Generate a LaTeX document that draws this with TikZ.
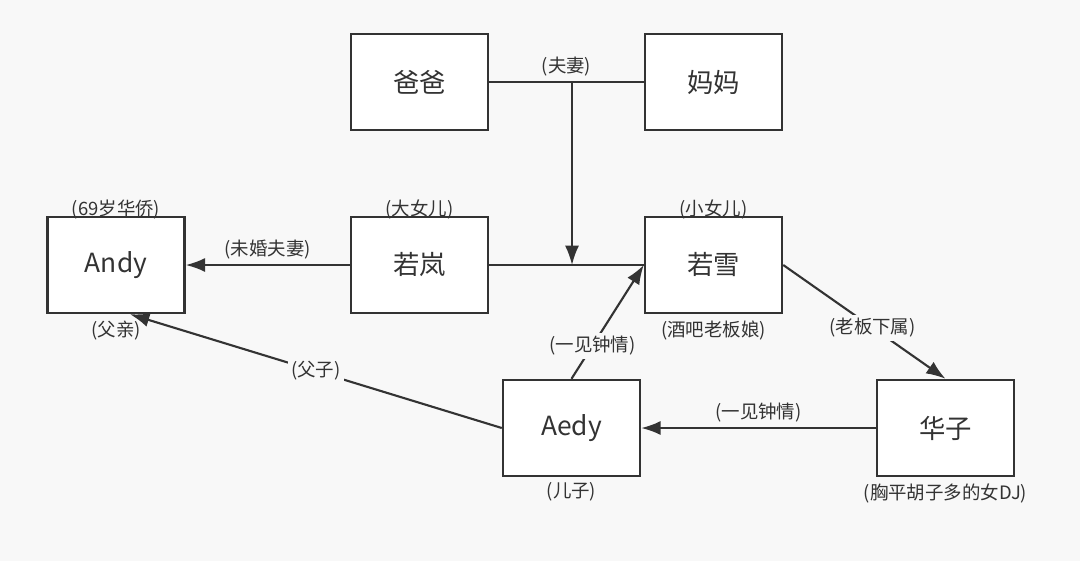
\documentclass[tikz,border=0pt]{standalone}
\usepackage{fontspec}
\setmainfont{Noto Sans CJK SC}
\usetikzlibrary{arrows.meta,positioning}
\definecolor{ink}{HTML}{333333}
\definecolor{paper}{HTML}{F8F8F8}
\begin{document}
\begin{tikzpicture}
        \tikzstyle{person}=[draw=ink,line width=1.4pt,fill=white,minimum width=2.74cm,minimum height=1.92cm,text=ink,font=\fontsize{15}{18}\selectfont]
        \tikzstyle{note}=[text=ink,inner sep=0.5pt,font=\fontsize{10.5}{12}\selectfont]
        \tikzstyle{tag}=[note,fill=paper,inner sep=2pt]
        \tikzstyle{rel}=[draw=ink,line width=1.2pt]
        \tikzstyle{relarrow}=[rel,-{Latex[length=11pt,width=8pt]}]
        \fill[paper] (0,0) rectangle (21.6,11.22);
        \node[person] (baba) at (8.39,9.58) {爸爸};
        \node[person] (mama) at (14.27,9.58) {妈妈};
        \node[person] (andy) at (2.32,5.92) {Andy};
        \node[person] (ruolan) at (8.39,5.92) {若岚};
        \node[person] (ruoxue) at (14.27,5.92) {若雪};
        \node[person] (aedy) at (11.43,2.66) {Aedy};
        \node[person] (huazi) at (18.91,2.66) {华子};
        \node[note] (andytop) [above=-2.5pt of andy] {(69岁华侨)};
        \node[note] (andybot) [below=3pt of andy] {(父亲)};
        \node[note] (ruolantop) [above=-2.5pt of ruolan] {(大女儿)};
        \node[note] (ruoxuetop) [above=-2.5pt of ruoxue] {(小女儿)};
        \node[note] (ruoxuebot) [below=3pt of ruoxue] {(酒吧老板娘)};
        \node[note] (aedybot) [below=2pt of aedy] {(儿子)};
        \node[note] (huazibot) [below=3pt of huazi] {(胸平胡子多的女DJ)};
        \coordinate (wed) at (11.44,9.58);
        \coordinate (kids) at (11.44,5.92);
        \draw[rel] (baba) -- node[note,above=2pt] (couple) {(夫妻)} (mama);
        \draw[relarrow] (wed) -- (kids);
        \draw[rel] (ruolan) -- (ruoxue);
        \draw[relarrow] (ruolan) -- node[note,above=2pt] (fiance) {(未婚夫妻)} (andy);
        \draw[relarrow] (aedy.north) -- node[tag,pos=0.29] (love1) {(一见钟情)} (ruoxue.west);
        \draw[relarrow] (ruoxue.east) -- node[tag,pos=0.55] (boss) {(老板下属)} (huazi.north);
        \draw[relarrow] (huazi) -- node[note,above=2pt] (love2) {(一见钟情)} (aedy);
        \draw[relarrow] (aedy.west) -- node[tag] (father) {(父子)} ([xshift=0.28cm]andy.south);
    \end{tikzpicture}
\end{document}
